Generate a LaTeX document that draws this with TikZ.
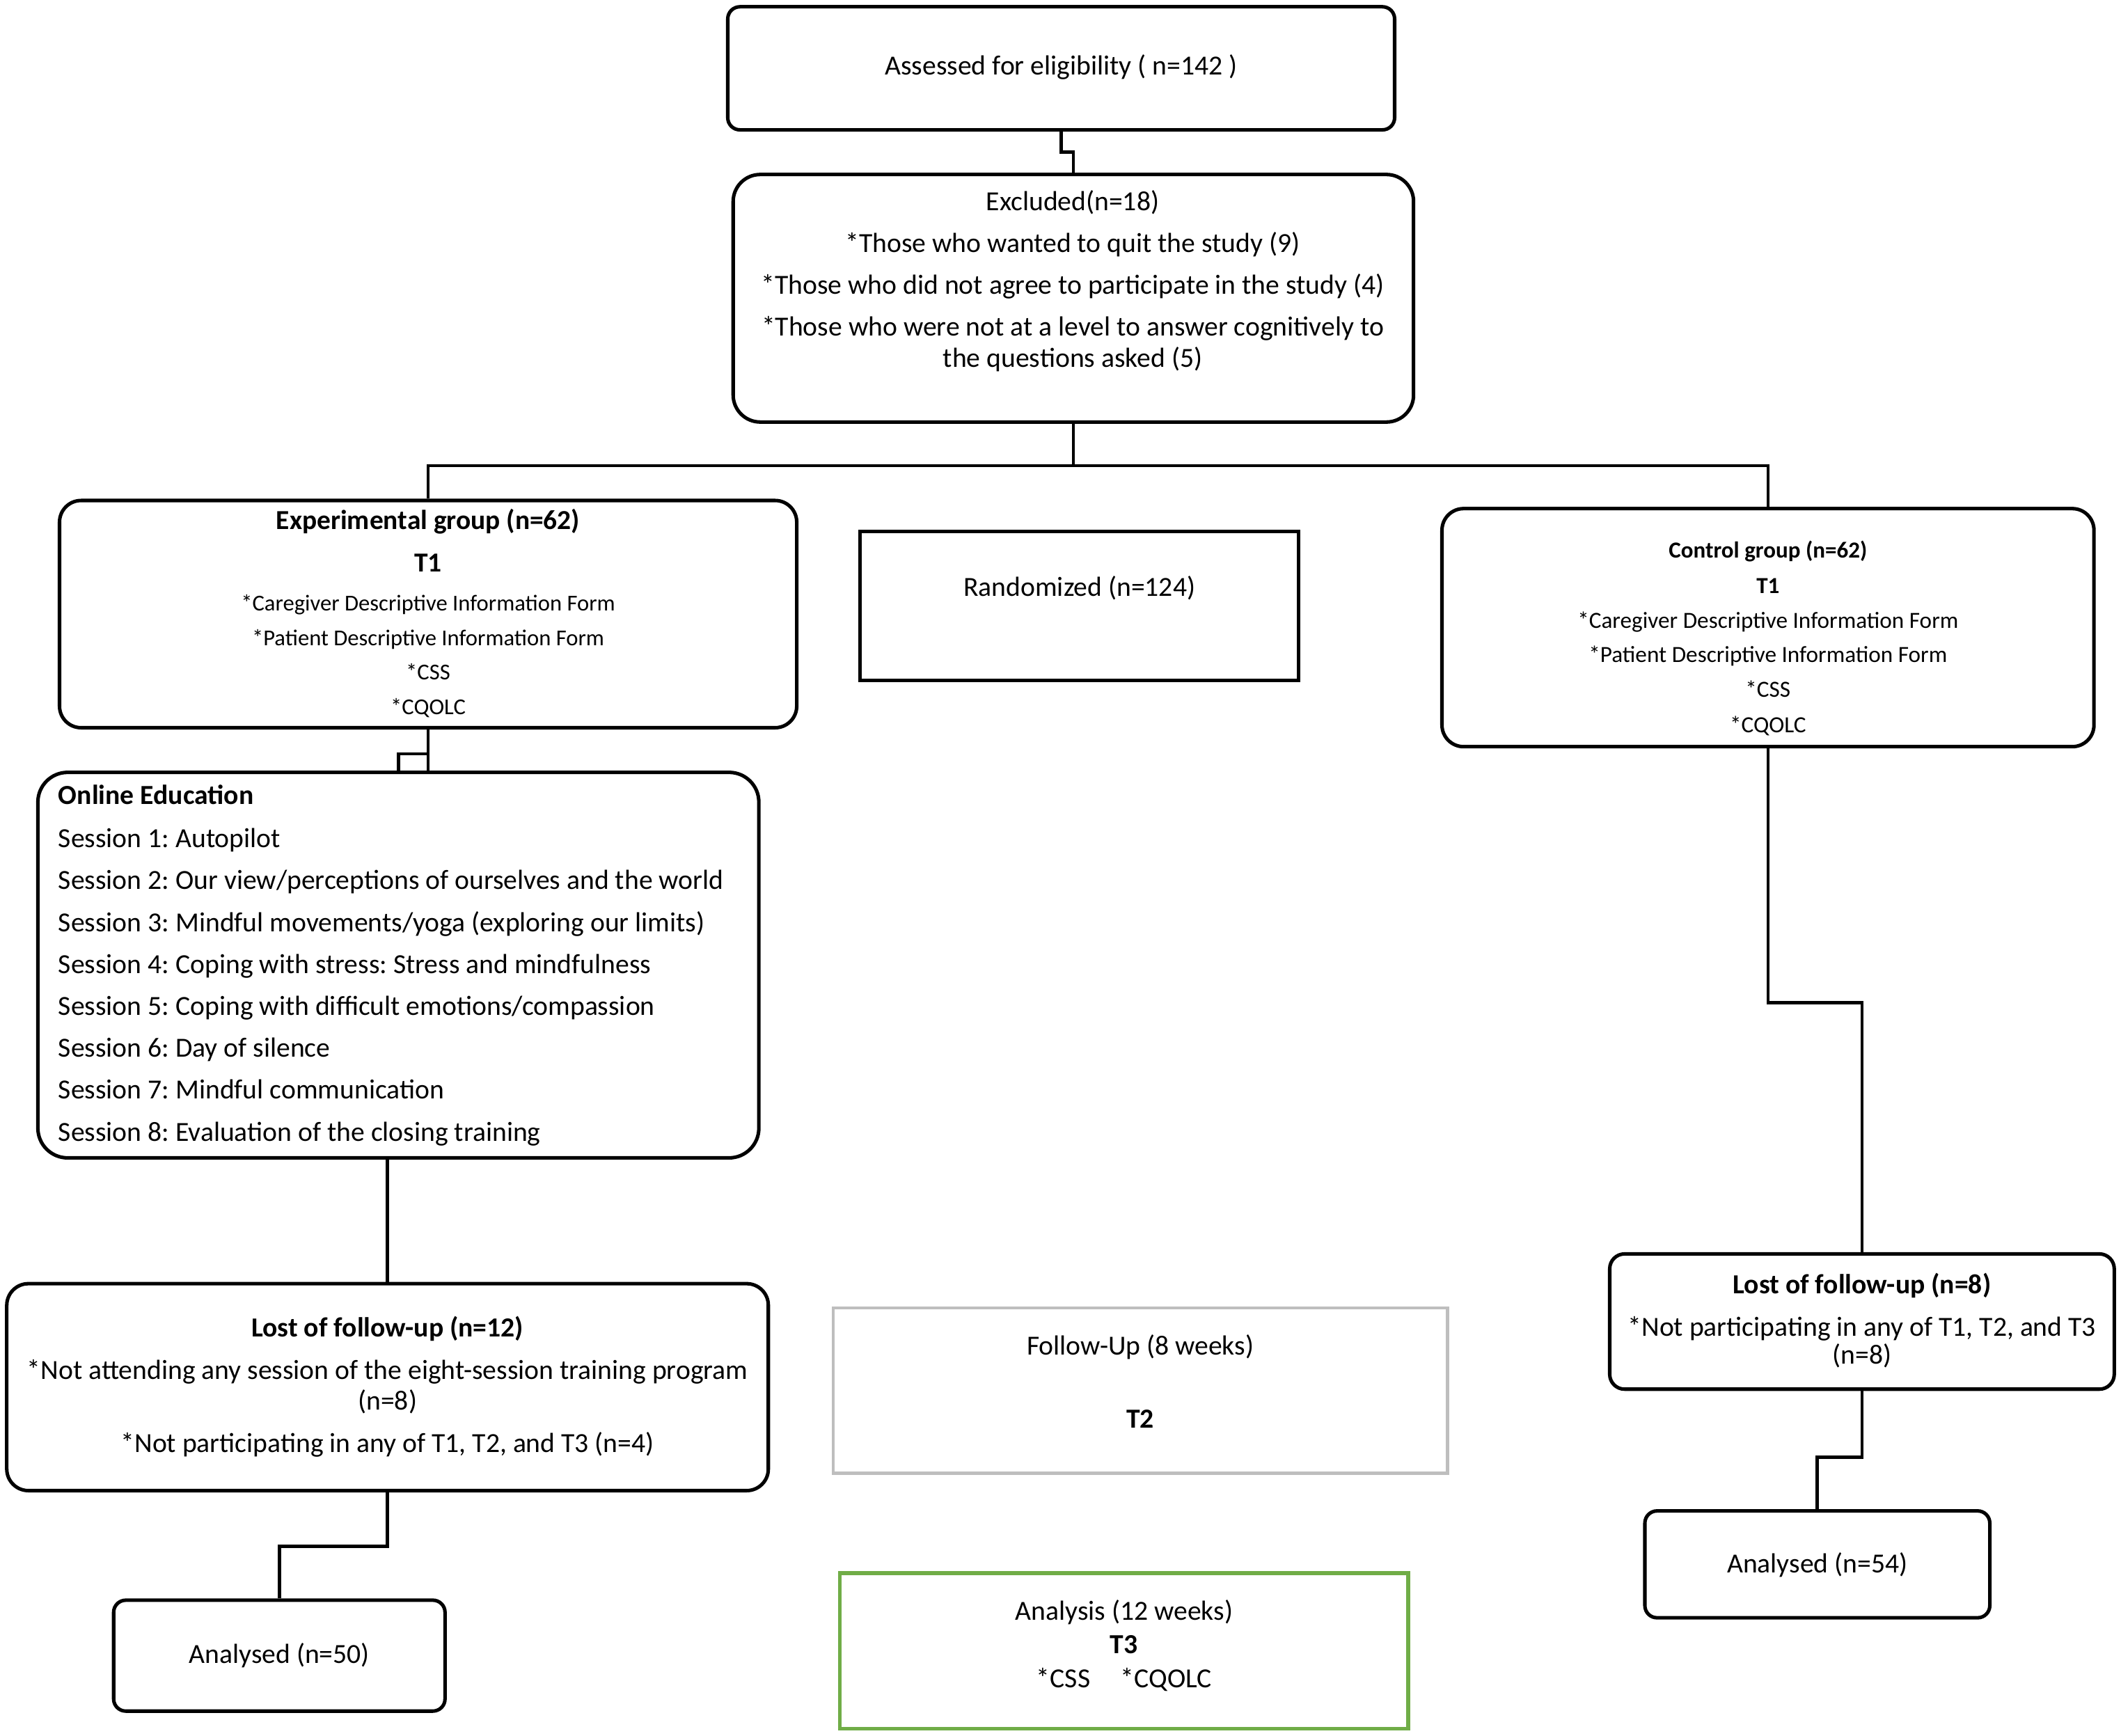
\documentclass[tikz,border=0pt]{standalone}
\usepackage{fontspec}
\setmainfont{Carlito}
\frenchspacing
\tikzset{
 bxframe/.style={draw, line width=2.6pt, inner sep=0pt},
 conn/.style={line width=2.4pt},
 tc/.style={anchor=base, inner sep=0pt},
 tw/.style={anchor=base west, inner sep=0pt},
}
\definecolor{boxgray}{RGB}{190,190,190}
\definecolor{boxgreen}{RGB}{112,173,71}
\newcommand\fs[1]{\fontsize{#1}{#1}\selectfont}
\newcommand\bx[6]{\node[bxframe,#6,minimum width={#4-#2},minimum height={#5-#3}] (#1) at ({(#2+#4)/2},{(#3+#5)/2}) {};}
\newcommand\tline[6][tc]{\node[#1,font=\fs{#5}] (#2) at ({#3},{#4+0.32*#5}) {#6};}
\begin{document}
\begin{tikzpicture}[x=1pt,y=-1pt]
\useasboundingbox (0,0) rectangle (1568,1283);
% boxes
\bx{assess}{538}{5}{1031}{96}{rounded corners=9pt}
\bx{excl}{542}{129}{1045}{312}{rounded corners=20pt}
\bx{exp}{44}{370}{589}{538}{rounded corners=16pt}
\bx{rand}{636}{393}{960}{503}{}
\bx{ctrl}{1066}{376}{1548}{552}{rounded corners=16pt}
\bx{online}{28}{571}{561}{856}{rounded corners=22pt}
\bx{lostA}{5}{949}{568}{1102}{rounded corners=16pt}
\bx{anA}{84}{1183}{329}{1265}{rounded corners=9pt}
\bx{follow}{616}{967}{1070}{1089}{draw=boxgray,line width=2.4pt}
\bx{analysis}{621}{1163}{1041}{1278}{draw=boxgreen,line width=2.8pt}
\bx{lostB}{1190}{927}{1563}{1027}{rounded corners=11pt}
\bx{anB}{1216}{1117}{1471}{1196}{rounded corners=9pt}
% connectors
\draw[conn] (assess.south) -- ++(0,15) -| (excl.north);
\draw[conn] (excl.south) -- ++(0,31) coordinate (split);
\draw[conn] (split) -| (exp.north);
\draw[conn] (split) -| (ctrl.north);
\draw[conn] (exp.south) -- ++(0,18) -| (online.north);
\draw[conn] (exp.south) -- (exp.south |- online.north);
\draw[conn] (online.south -| lostA.north) -- (lostA.north);
\draw[conn] (lostA.south) -- ++(0,40) -| (anA.north);
\draw[conn] (ctrl.south) -- ++(0,188) -| (lostB.north);
\draw[conn] (lostB.south) -- ++(0,49) -| (anB.north);
% texts
\tline{tAssess}{784.5}{49}{20.4}{Assessed for eligibility ( n=142 )}
\tline{tEx1}{793}{149}{20.4}{Excluded(n=18)}
\tline{tEx2}{793}{180}{20.4}{*Those who wanted to quit the study (9)}
\tline{tEx3}{793}{211}{20.4}{*Those who did not agree to participate in the study (4)}
\tline{tEx4}{793}{242}{20.4}{*Those who were not at a level to answer cognitively to}
\tline{tEx5}{793}{265}{20.4}{the questions asked (5)}
\tline{tExp1}{316.5}{385}{20.3}{\textbf{Experimental group (n=62)}}
\tline{tExp2}{316.5}{416}{20.3}{\textbf{T1}}
\tline{tExp3}{316.5}{446}{16.8}{*Caregiver Descriptive Information Form}
\tline{tExp4}{316.5}{472}{16.8}{*Patient Descriptive Information Form}
\tline{tExp5}{316.5}{497}{16.8}{*CSS}
\tline{tExp6}{316.5}{523}{16.8}{*CQOLC}
\tline{tRand}{798}{434}{20.4}{Randomized (n=124)}
\tline{tCt1}{1307}{407}{17}{\textbf{Control group (n=62)}}
\tline{tCt2}{1307}{433}{17}{\textbf{T1}}
\tline{tCt3}{1307}{459}{17.1}{*Caregiver Descriptive Information Form}
\tline{tCt4}{1307}{484}{17.1}{*Patient Descriptive Information Form}
\tline{tCt5}{1307}{510}{17.1}{*CSS}
\tline{tCt6}{1307}{536}{17.1}{*CQOLC}
\tline[tw]{tOn0}{43}{588}{20.4}{\textbf{Online Education}}
\tline[tw]{tOn1}{43}{620}{20.4}{Session 1: Autopilot}
\tline[tw]{tOn2}{43}{651}{20.4}{Session 2: Our view/perceptions of ourselves and the world}
\tline[tw]{tOn3}{43}{682}{20.4}{Session 3: Mindful movements/yoga (exploring our limits)}
\tline[tw]{tOn4}{43}{713}{20.4}{Session 4: Coping with stress: Stress and mindfulness}
\tline[tw]{tOn5}{43}{744}{20.4}{Session 5: Coping with difficult emotions/compassion}
\tline[tw]{tOn6}{43}{775}{20.4}{Session 6: Day of silence}
\tline[tw]{tOn7}{43}{806}{20.4}{Session 7: Mindful communication}
\tline[tw]{tOn8}{43}{837}{20.4}{Session 8: Evaluation of the closing training}
\tline{tLA1}{286.5}{982}{20.4}{\textbf{Lost of follow-up (n=12)}}
\tline{tLA2}{286.5}{1013}{20.4}{*Not attending any session of the eight-session training program}
\tline{tLA3}{286.5}{1036}{20.4}{(n=8)}
\tline{tLA4}{286.5}{1067}{20.4}{*Not participating in any of T1, T2, and T3 (n=4)}
\tline{tAnA}{206.5}{1223}{20.4}{Analysed (n=50)}
\tline{tFo1}{843}{995}{20.4}{Follow-Up (8 weeks)}
\tline{tFo2}{843}{1049}{20.4}{\textbf{T2}}
\tline{tAs1}{831}{1191}{20.4}{Analysis (12 weeks)}
\tline{tAs2}{831}{1216}{20.4}{\textbf{T3}}
\tline{tAs3}{831}{1241}{20.4}{*CSS\hspace{1.1em}*CQOLC}
\tline{tLB1}{1376.5}{950}{20.4}{\textbf{Lost of follow-up (n=8)}}
\tline{tLB2}{1376.5}{981}{20.4}{*Not participating in any of T1, T2, and T3}
\tline{tLB3}{1376.5}{1002}{20.4}{(n=8)}
\tline{tAnB}{1343.5}{1156}{20.4}{Analysed (n=54)}
\end{tikzpicture}
\end{document}
